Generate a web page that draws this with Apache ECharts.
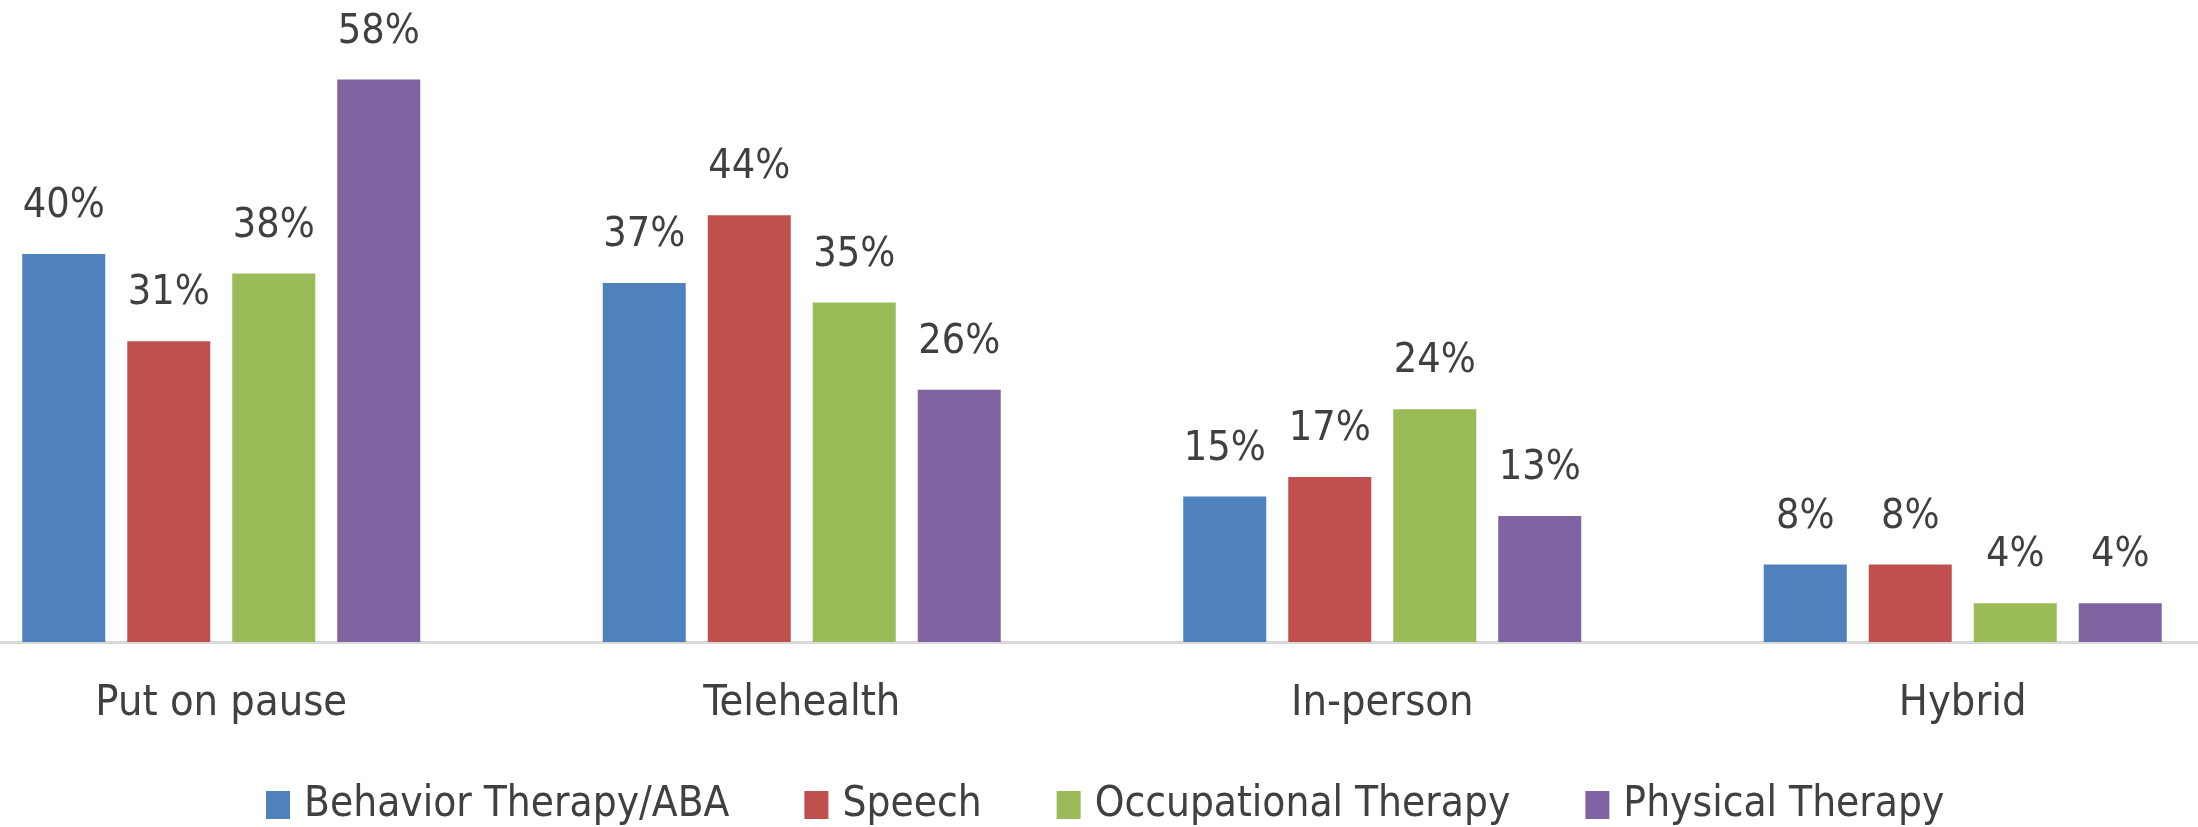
<!DOCTYPE html>
<html>
<head>
<meta charset="utf-8">
<script src="https://cdn.jsdelivr.net/npm/echarts@6/dist/echarts.min.js"></script>
<style>
  html, body { margin: 0; padding: 0; background: #fff; overflow: hidden; }
  /* 图表区比窗口宽，左右两侧被裁掉一点 */
  #chart { position: absolute; left: -69px; top: 0; width: 2322px; height: 827px; }
</style>
</head>
<body>
<div id="chart"></div>
<script>
// 数据
const categories = ['Put on pause', 'Telehealth', 'In-person', 'Hybrid']
const behavior = [40, 37, 15, 8]
const speech = [31, 44, 17, 8]
const occupational = [38, 35, 24, 4]
const physical = [58, 26, 13, 4]

const seriesNames = ['Behavior Therapy/ABA', 'Speech', 'Occupational Therapy', 'Physical Therapy']
const seriesData = [behavior, speech, occupational, physical]
const colors = ['#4F81BD', '#C0504D', '#9BBB59', '#8064A2']

const font = "'DejaVu Sans Condensed', 'Liberation Sans Narrow', 'DejaVu Sans', sans-serif"
const textColor = '#404040'

const chart = echarts.init(document.getElementById('chart'))
chart.setOption({
  animation: false,
  grid: {
    left: 0,
    right: 0,
    top: 60,
    bottom: 185
  },
  legend: {
    top: 784,
    left: 335,
    padding: 0,
    itemWidth: 24,
    itemHeight: 28,
    itemGap: 75,
    icon: 'rect',
    textStyle: {
      fontFamily: font,
      fontSize: 42,
      color: textColor,
      padding: [0, 0, 0, 9]
    },
    data: seriesNames
  },
  xAxis: {
    type: 'category',
    data: categories,
    axisTick: { show: false },
    axisLine: { lineStyle: { color: '#D9D9D9', width: 3 } },
    axisLabel: {
      margin: 40,
      fontFamily: font,
      fontSize: 43,
      color: textColor
    }
  },
  yAxis: {
    type: 'value',
    min: 0,
    max: 60,
    show: false,
    splitLine: { show: false }
  },
  series: seriesData.map((values, i) => ({
    name: seriesNames[i],
    type: 'bar',
    data: values,
    barWidth: 83,
    barGap: '26.5%',
    itemStyle: { color: colors[i] },
    label: {
      show: true,
      position: 'top',
      distance: 27,
      formatter: '{c}%',
      fontFamily: font,
      fontSize: 41,
      color: textColor
    }
  }))
})
</script>
</body>
</html>
